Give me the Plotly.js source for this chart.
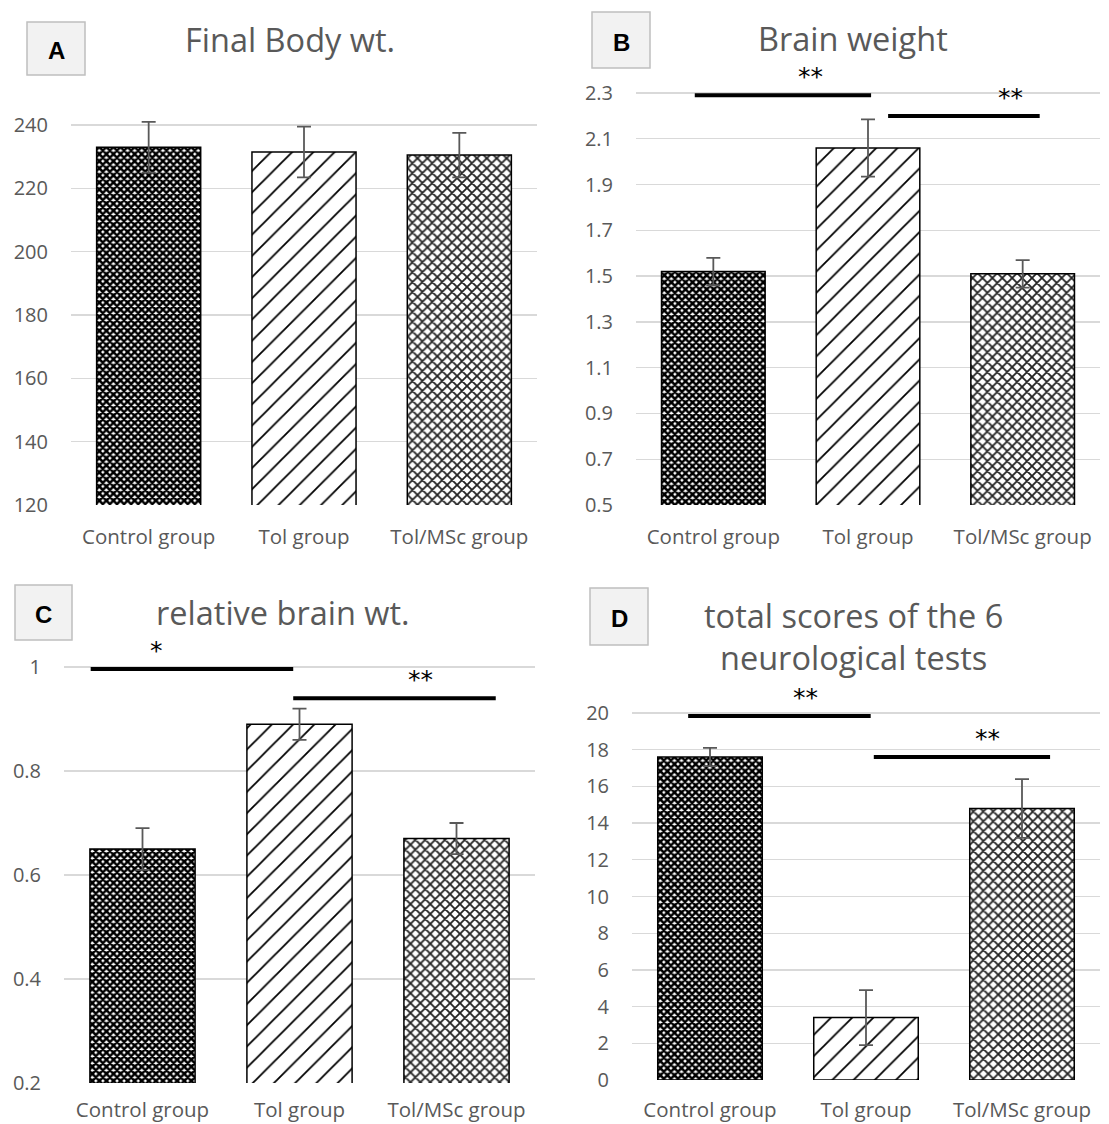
<!DOCTYPE html>
<html><head><meta charset="utf-8">
<script src="https://cdn.plot.ly/plotly-3.0.1.min.js"></script>
<style>html,body{margin:0;padding:0;background:#fff}#chart{width:1109px;height:1124px}</style>
</head><body><div id="chart"></div>
<script>
const categories = ['Control group', 'Tol group', 'Tol/MSc group'];
const bodyWt = [233, 231.5, 230.5];
const bodyWtErr = [8, 8, 7];
const brainWt = [1.52, 2.06, 1.51];
const brainWtErr = [0.06, 0.125, 0.06];
const relBrainWt = [0.65, 0.89, 0.67];
const relBrainWtErr = [0.04, 0.03, 0.03];
const neuroScore = [17.6, 3.4, 14.8];
const neuroScoreErr = [0.5, 1.5, 1.6];

const ticksA = [120, 140, 160, 180, 200, 220, 240];
const ticksB = [0.5, 0.7, 0.9, 1.1, 1.3, 1.5, 1.7, 1.9, 2.1, 2.3];
const ticksC = [0.2, 0.4, 0.6, 0.8, 1];
const ticksD = [0, 2, 4, 6, 8, 10, 12, 14, 16, 18, 20];

// significance brackets: [x0, x1 (category units), y value, label, label x]
const sigB = [[-0.12, 1.02, 2.29, '**', 0.63], [1.13, 2.11, 2.20, '**', 1.92]];
const sigC = [[-0.33, 0.96, 0.996, '*', 0.09], [0.96, 2.25, 0.94, '**', 1.77]];
const sigD = [[-0.14, 1.03, 19.84, '**', 0.61], [1.05, 2.18, 17.6, '**', 1.78]];

const W = 1109, H = 1124;
const FONT = '"Open Sans", Lato, sans-serif';
const GREY = '#595959';

const pattern = {
  shape: ['x', '/', 'x'],
  fgcolor: ['#000000', '#000000', '#222222'],
  bgcolor: ['#ffffff', '#ffffff', '#ffffff'],
  size: [5, 15, 7],
  solidity: [0.75, 0.12, 0.45]
};

function barTrace(vals, errs, n) {
  return {
    type: 'bar', x: categories, y: vals,
    xaxis: 'x' + (n === 1 ? '' : n), yaxis: 'y' + (n === 1 ? '' : n),
    marker: { color: '#ffffff', pattern: pattern, line: { color: '#000', width: 1.5 } },
    error_y: { type: 'data', array: errs, visible: true, color: '#595959', thickness: 1.8, width: 7 },
    cliponaxis: false, hoverinfo: 'skip', showlegend: false
  };
}

const data = [
  barTrace(bodyWt, bodyWtErr, 1),
  barTrace(brainWt, brainWtErr, 2),
  barTrace(relBrainWt, relBrainWtErr, 3),
  barTrace(neuroScore, neuroScoreErr, 4)
];

function px(x) { return x / W; }
function py(y) { return 1 - y / H; }

function xax(d0, d1, n, standoff) {
  return {
    domain: [px(d0), px(d1)], anchor: 'y' + n, type: 'category', showgrid: false, zeroline: false,
    showline: false, ticks: '', ticklabelstandoff: standoff,
    tickfont: { family: FONT, size: 20.5, color: GREY }, fixedrange: true
  };
}
function yax(range, ticks, top, bottom, n, fmt) {
  return {
    domain: [py(bottom), py(top)], anchor: 'x' + n, range: range, tickvals: ticks,
    ticktext: ticks.map(fmt || (v => String(v))),
    showgrid: true, gridcolor: '#d9d9d9', gridwidth: 1.3, zeroline: false, showline: false,
    ticks: '', ticklabelstandoff: 22,
    tickfont: { family: FONT, size: 20, color: GREY }, fixedrange: true
  };
}

const shapes = [];
const annotations = [];

function box(x0, y0, x1, y1, letter) {
  shapes.push({ type: 'rect', xref: 'paper', yref: 'paper', x0: px(x0), x1: px(x1), y0: py(y1), y1: py(y0),
    fillcolor: '#f2f2f2', line: { color: '#bfbfbf', width: 1.5 } });
  annotations.push({ xref: 'paper', yref: 'paper', x: px((x0 + x1) / 2), y: py((y0 + y1) / 2 + 2),
    text: '<b>' + letter + '</b>', showarrow: false, font: { family: 'Liberation Sans, Arial, sans-serif', size: 24, color: '#000' },
    xanchor: 'center', yanchor: 'middle' });
}
function title(x, y, text) {
  annotations.push({ xref: 'paper', yref: 'paper', x: px(x), y: py(y), text: text, showarrow: false,
    font: { family: FONT, size: 32.5, color: GREY }, xanchor: 'center', yanchor: 'middle' });
}
function sig(list, n) {
  const xr = 'x' + n, yr = 'y' + n;
  list.forEach(s => {
    shapes.push({ type: 'line', xref: xr, yref: yr, x0: s[0], x1: s[1], y0: s[2], y1: s[2],
      line: { color: '#000', width: 4 } });
    annotations.push({ xref: xr, yref: yr, x: s[4], y: s[2], yanchor: 'bottom', yshift: 2,
      text: s[3], showarrow: false, font: { family: 'DejaVu Sans, sans-serif', size: 25, color: '#000' } });
  });
}

box(27, 22, 85, 75, 'A');
box(592, 12, 650, 68, 'B');
box(15, 585, 72, 640, 'C');
box(590, 588, 648, 645, 'D');
title(290, 40, 'Final Body wt.');
title(853, 38, 'Brain weight');
title(283, 612, 'relative brain wt.');
title(853, 615, 'total scores of the 6');
title(853, 658, 'neurological tests');
sig(sigB, 2);
sig(sigC, 3);
sig(sigD, 4);

const layout = {
  width: W, height: H, margin: { l: 0, r: 0, t: 0, b: 0 },
  paper_bgcolor: '#fff', plot_bgcolor: 'rgba(0,0,0,0)',
  bargap: 0.33, showlegend: false,
  xaxis: xax(71, 537, '', 17),
  yaxis: yax([120, 242], ticksA, 118.7, 505, ''),
  xaxis2: xax(636, 1100, 2, 17),
  yaxis2: yax([0.5, 2.4], ticksB, 70.1, 505, 2, v => v.toFixed(1)),
  xaxis3: xax(64, 535, 3, 12),
  yaxis3: yax([0.2, 1.02], ticksC, 656.6, 1083, 3),
  xaxis4: xax(632, 1100, 4, 15),
  yaxis4: yax([0, 20.3], ticksD, 707.5, 1080, 4),
  shapes: shapes, annotations: annotations,
  font: { family: FONT }
};

Plotly.newPlot('chart', data, layout, { displayModeBar: false, staticPlot: true });
</script></body></html>
